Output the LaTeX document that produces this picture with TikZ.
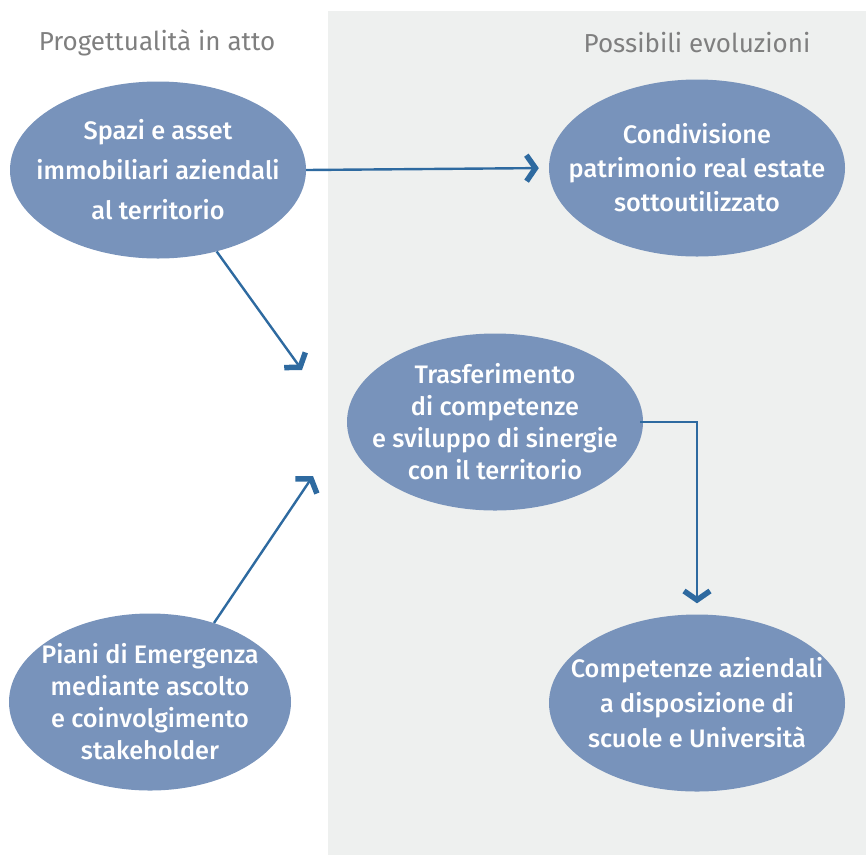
\documentclass[tikz,border=0pt]{standalone}
\usepackage{fontspec}
\setmainfont{Fira Sans}[UprightFont=* Medium]
\newfontfamily\headfont{Fira Sans}
\usetikzlibrary{shapes.geometric,arrows.meta}
\definecolor{panelgrey}{HTML}{EEF0EF}
\definecolor{bubble}{HTML}{7893BB}
\definecolor{linkblue}{HTML}{2E6AA0}
\definecolor{headgrey}{HTML}{7F7F7F}
\tikzset{
  bubblenode/.style={ellipse, fill=bubble, draw=none, inner sep=0pt,
    minimum width=296pt, minimum height=177pt},
  bubbletext/.style={text=white, align=center, inner sep=0pt,
    font=\fontsize{25.3}{32}\selectfont},
  header/.style={text=headgrey, font=\headfont\fontsize{26}{28}\selectfont, inner sep=0pt},
  link/.style={draw=linkblue, line width=2.4pt,
    -{Straight Barb[length=9pt, width=26pt, line width=5.5pt]}},
}
\begin{document}
\begin{tikzpicture}[x=1pt, y=-1pt]
  \useasboundingbox (0,0) rectangle (866,855);
  % right-hand panel
  \fill[panelgrey] (328,11) rectangle (866,855);
  % column headers
  \node[header] (h1) at (157,43) {Progettualità in atto};
  \node[header] (h2) at (697,43) {Possibili evoluzioni};
  % bubbles
  \node[bubblenode] (e1) at (158,170) {};
  \node[bubblenode] (e2) at (697,168) {};
  \node[bubblenode] (e3) at (495,422) {};
  \node[bubblenode, minimum width=282pt] (e4) at (150,702) {};
  \node[bubblenode] (e5) at (697,703) {};
  % bubble texts
  \node[bubbletext, font=\fontsize{25.3}{40}\selectfont] (l1) at (e1) {Spazi e asset\\immobiliari aziendali\\al territorio};
  \node[bubbletext, font=\fontsize{25.3}{34}\selectfont] (l2) at (e2) {Condivisione\\patrimonio real estate\\sottoutilizzato};
  \node[bubbletext] (l3) at (e3) {Trasferimento\\di competenze\\e sviluppo di sinergie\\con il territorio};
  \node[bubbletext] (l4) at (e4) {Piani di Emergenza\\mediante ascolto\\e coinvolgimento\\stakeholder};
  \node[bubbletext, font=\fontsize{25.3}{35}\selectfont] (l5) at (e5) {Competenze aziendali\\a disposizione di\\scuole e Università};
  % free arrow ends
  \coordinate (t1) at (302,370);
  \coordinate (t2) at (313,476);
  % connectors
  \draw[link, shorten >=10pt] (e1.east) -- (e2.west);
  \draw[link] (e1) -- (t1);
  \draw[link] (e4.51) -- (t2);
  \draw[link, shorten >=11pt] ([xshift=-3pt]e3.east) -| (e5.north);
\end{tikzpicture}
\end{document}
